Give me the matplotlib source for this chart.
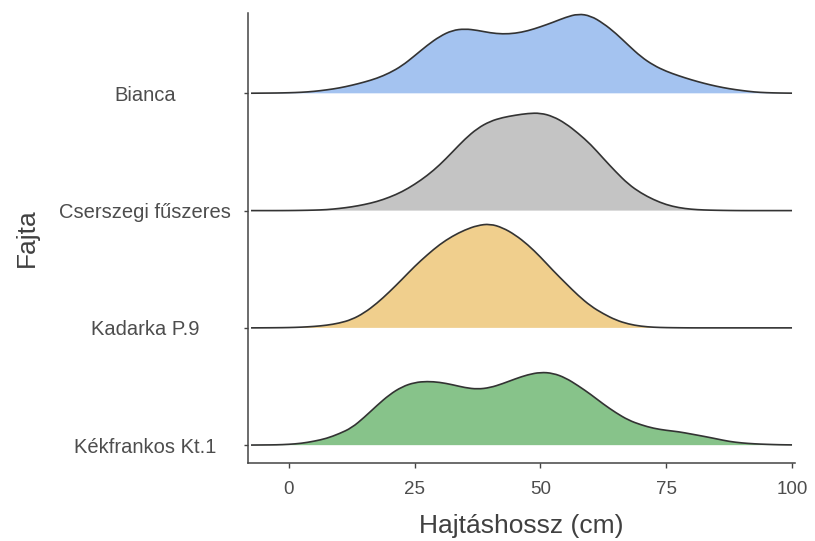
import numpy as np
import matplotlib
matplotlib.use("Agg")
from matplotlib import pyplot as plt
from matplotlib.path import Path
from matplotlib.patches import PathPatch

plt.rcParams['font.family'] = ['Liberation Sans', 'DejaVu Sans']

# fajtak fentrol lefele
fajtak = ["Bianca", "Cserszegi fűszeres", "Kadarka P.9", "Kékfrankos Kt.1"]
szinek = ["#a4c3f0", "#c4c4c4", "#f0cf8d", "#87c38a"]

# hajtashossz racs (cm) es a leolvasott gorbe-magassagok (pixelben)
hossz = np.arange(-7.5, 100.1, 2.5)
bianca = [0.1, 0.2, 0.3, 0.55, 1.0, 1.9, 3.4, 5.3, 8, 11.2,
          15, 20.3, 27.5, 37.5, 48, 57, 63, 64.5, 63, 60.5,
          59.3, 60, 62.5, 66.5, 71, 76, 79.5, 77.5, 70, 60,
          48, 36.5, 28, 22, 17.5, 13.5, 10, 7, 4.6, 2.8,
          1.3, 0.6, 0.3, 0.15]
cserszegi = [0, 0, 0, 0.05, 0.2, 0.45, 0.9, 2.1, 3.7, 6,
             9, 13.3, 18.8, 26.2, 35, 45.7, 58.5, 71.6, 82.3, 89.3,
             93.1, 95.4, 97.2, 97.6, 94.2, 87.2, 77.4, 66.2, 52.2, 38.7,
             26.3, 17.5, 10.9, 5.9, 2.9, 1.3, 0.6, 0.3, 0.1, 0,
             0, 0, 0, 0]
kadarka = [0, 0.05, 0.15, 0.3, 0.7, 1.4, 2.6, 4.7, 8.3, 15,
           24.5, 36, 48.5, 61.5, 73, 83.5, 91.7, 98, 102.5, 104,
           100.2, 93, 83.2, 71, 57.4, 44.8, 32.4, 21.8, 14.1, 7.8,
           3.8, 1.6, 0.6, 0.25, 0.1, 0, 0, 0, 0, 0,
           0, 0, 0, 0]
kekfrankos = [0.1, 0.2, 0.3, 0.8, 1.8, 3.9, 6.7, 11.4, 17.3, 27.8,
              39.6, 50.5, 58.4, 62.7, 63.8, 62.9, 60.5, 57.5, 56, 57.5,
              61.5, 66.3, 70.5, 72.9, 72, 67.3, 59.5, 50.8, 41.1, 32.4,
              25, 20.3, 16.8, 14.8, 13.4, 11.1, 8.8, 6.3, 3.7, 2.2,
              1.3, 0.8, 0.4, 0.25]
suruseg = [bianca, cserszegi, kadarka, kekfrankos]
x_ticks = [0, 25, 50, 75, 100]

sor = 117.3  # egy sor magassaga pixelben


def sima_ut(x, y):
    # kvadratikus Bezier a leolvasott pontokon at, hogy ne legyen torott
    verts = [(x[0], y[0])]
    codes = [Path.MOVETO]
    for k in range(1, len(x) - 1):
        verts += [(x[k], y[k]), ((x[k] + x[k + 1]) / 2, (y[k] + y[k + 1]) / 2)]
        codes += [Path.CURVE3, Path.CURVE3]
    verts.append((x[-1], y[-1]))
    codes.append(Path.LINETO)
    return verts, codes


fig = plt.figure(figsize=(8.15, 5.41), dpi=100)
ax = fig.add_axes([0.304, 0.144, 0.6715, 0.832])

n = len(fajtak)
for i, (d, szin) in enumerate(zip(suruseg, szinek)):
    alap = n - 1 - i
    y = alap + np.array(d) / sor
    verts, codes = sima_ut(hossz, y)
    tolt_v = verts + [(hossz[-1], alap), (hossz[0], alap), (hossz[0], y[0])]
    tolt_c = codes + [Path.LINETO, Path.LINETO, Path.CLOSEPOLY]
    ax.add_patch(PathPatch(Path(tolt_v, tolt_c), facecolor=szin, lw=0))
    ax.add_patch(PathPatch(Path(verts, codes), fill=False,
                           edgecolor="#333333", lw=1.2, joinstyle="round"))

ax.set_xlim(-8.15, 100.6)
ax.set_ylim(-0.153, 3.685)

for s in ["top", "right"]:
    ax.spines[s].set_visible(False)
for s in ["left", "bottom"]:
    ax.spines[s].set_color("#444444")
    ax.spines[s].set_linewidth(1.1)

ax.set_xticks(x_ticks)
ax.set_xticklabels([str(t) for t in x_ticks])
ax.set_yticks(range(n))
ax.set_yticklabels(fajtak[::-1])
ax.tick_params(axis="x", length=3.6, width=1.0, color="#444444",
               labelsize=13.5, labelcolor="#4d4d4d", pad=9)
ax.tick_params(axis="y", length=3.2, width=1.0, color="#444444",
               labelsize=14.5, labelcolor="#4d4d4d", pad=70.8)
for lab in ax.get_yticklabels():
    lab.set_ha("center")

ax.set_xlabel("Hajtáshossz (cm)", fontsize=19, color="#404040", labelpad=12)
ax.set_ylabel("Fajta", fontsize=19, color="#404040")
ax.yaxis.set_label_coords(-0.382, 0.5)

fig.savefig("out.png", dpi=100)
